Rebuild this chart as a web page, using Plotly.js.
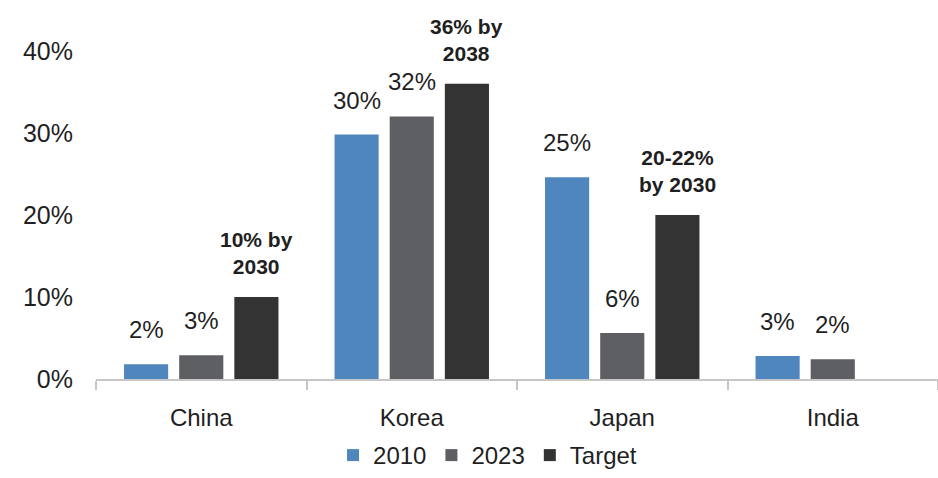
<!DOCTYPE html>
<html>
<head>
<meta charset="utf-8">
<script src="https://cdn.plot.ly/plotly-3.0.1.min.js"></script>
<style>
  html, body { margin: 0; padding: 0; background: #ffffff; }
  #chart { width: 938px; height: 478px; }
</style>
</head>
<body>
<div id="chart"></div>
<script>
// ---- data ----
const categories = ['China', 'Korea', 'Japan', 'India'];
const seriesNames = ['2010', '2023', 'Target'];
const values2010 = [0.018, 0.298, 0.246, 0.028];
const values2023 = [0.029, 0.320, 0.056, 0.024];
const valuesTarget = [0.100, 0.360, 0.200, null];
const labels2010 = ['2%', '30%', '25%', '3%'];
const labels2023 = ['3%', '32%', '6%', '2%'];
const labelsTarget = ['10% by<br>2030', '36% by<br>2038', '20-22%<br>by 2030', ''];
const yTickVals = [0, 0.1, 0.2, 0.3, 0.4];
const yTickText = ['0%', '10%', '20%', '30%', '40%'];

// ---- styles ----
const FONT = '"Liberation Sans", Arial, sans-serif';
const TEXT = '#1f1f1f';
const colors = ['#4F86BE', '#5E5F63', '#333333'];
const allValues = [values2010, values2023, valuesTarget];
const allLabels = [labels2010, labels2023, labelsTarget];

const traces = seriesNames.map((name, i) => ({
  type: 'bar',
  name: name,
  x: categories,
  y: allValues[i],
  marker: { color: colors[i] },
  hoverinfo: 'skip'
}));

const slotShift = [-55, 0, 55];
const annotations = [];
allValues.forEach((vals, i) => {
  vals.forEach((v, j) => {
    if (v === null || !allLabels[i][j]) return;
    const bold = i === 2;
    annotations.push({
      x: categories[j],
      y: v,
      xref: 'x',
      yref: 'y',
      xshift: slotShift[i],
      yshift: bold ? 17 : 19,
      yanchor: 'bottom',
      xanchor: 'center',
      showarrow: false,
      text: bold ? '<b>' + allLabels[i][j] + '</b>' : allLabels[i][j],
      font: { family: FONT, size: bold ? 21 : 24, color: TEXT },
      align: 'center'
    });
  });
});

// plot area: top at 18px, x axis at 379px (paper height 460 with b=0)
const layout = {
  width: 938,
  height: 478,
  margin: { l: 96, r: 0, t: 18, b: 0, pad: 0 },
  paper_bgcolor: '#ffffff',
  plot_bgcolor: '#ffffff',
  font: { family: FONT, size: 24, color: TEXT },
  barmode: 'group',
  bargap: 0.214,
  bargroupgap: 0.2,
  showlegend: true,
  legend: {
    orientation: 'h',
    x: 0.465,
    xanchor: 'center',
    y: 0,
    yanchor: 'bottom',
    font: { family: FONT, size: 24, color: TEXT },
    itemclick: false,
    bgcolor: 'rgba(0,0,0,0)'
  },
  xaxis: {
    type: 'category',
    range: [-0.5, 3.5],
    showline: true,
    linecolor: '#c6c6c6',
    linewidth: 2,
    ticks: 'outside',
    tickson: 'boundaries',
    ticklen: 9,
    tickwidth: 2,
    tickcolor: '#c6c6c6',
    showgrid: false,
    ticklabelstandoff: 16,
    tickfont: { family: FONT, size: 24, color: TEXT },
    fixedrange: true
  },
  yaxis: {
    domain: [99 / 460, 1],
    range: [0, 0.44],
    tickvals: yTickVals,
    ticktext: yTickText,
    showline: false,
    showgrid: false,
    zeroline: false,
    ticks: '',
    ticklabelstandoff: 22,
    tickfont: { family: FONT, size: 25, color: TEXT },
    fixedrange: true
  },
  annotations: annotations
};

Plotly.newPlot('chart', traces, layout, { displayModeBar: false, staticPlot: true });
</script>
</body>
</html>
